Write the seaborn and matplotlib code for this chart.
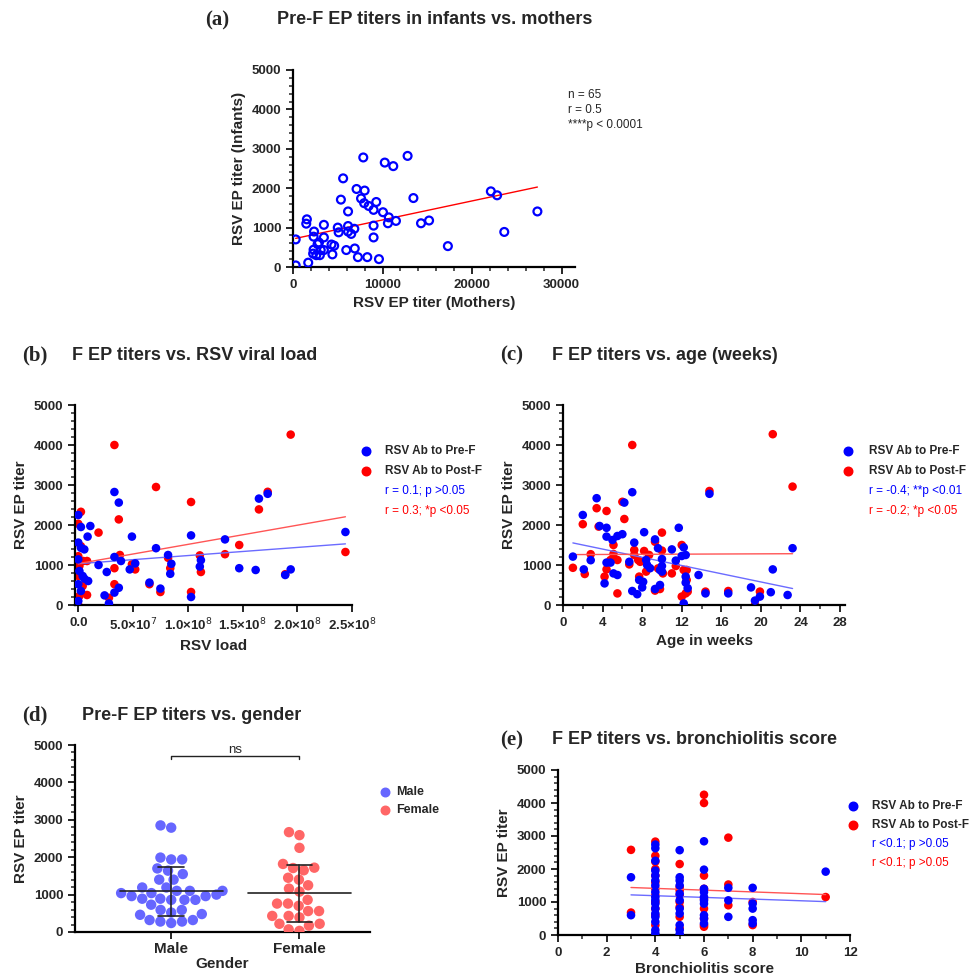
import numpy as np
import pandas as pd
import matplotlib.pyplot as plt
import seaborn as sns
from matplotlib.ticker import FuncFormatter, AutoMinorLocator

sns.set_theme(style="ticks")
plt.rcParams['font.family'] = ['Liberation Sans', 'DejaVu Sans']

BLUE = '#0000ff'
RED = '#ff0000'

# (a) mothers vs infants
a_mothers = [300, 300, 1550, 1480, 1700, 2350, 2300, 2300, 2250, 2600, 2750, 2900, 3000, 3100, 3450, 3450,
             3450, 4300, 4600, 4400, 5000, 5100, 5350, 5600, 5950, 6150, 6150, 6150, 6500, 6850, 6900, 7100,
             7250, 7600, 7850, 7950, 8000, 8450, 8300, 9000, 9000, 9000, 9300, 9600, 10050, 10250, 10600,
             10700, 11200, 11500, 12800, 13450, 14300, 15200, 17300, 22100, 22800, 23600, 27300]
a_infants = [700, 40, 1210, 1100, 110, 900, 770, 440, 340, 300, 580, 620, 300, 430, 750, 1070,
             430, 570, 540, 320, 1000, 880, 1710, 2250, 430, 1410, 1040, 900, 840, 970, 470, 1980,
             250, 1740, 2780, 1620, 1940, 1550, 250, 1450, 1050, 750, 1650, 200, 1390, 2650, 1110,
             1260, 2560, 1170, 2820, 1750, 1110, 1180, 530, 1920, 1820, 890, 1410]

# (b) viral load
b_pre_load = [3.3e7, 3.7e7, 0, 2.4e6, 1.1e7, 8.5e6, 4.9e7, 1.03e8, 1.65e8, 1.73e8, 2.44e8, 1.34e8, 7.1e7,
              8.2e7, 3.3e7, 3.9e7, 1.85e7, 2.6e7, 4.7e7, 5.2e7, 6.5e7, 7.5e7, 8.5e7, 8.4e7, 1.11e8, 1.12e8,
              1.03e8, 1.47e8, 1.62e8, 1.89e8, 1.94e8, 2.4e7, 2.8e7, 3.3e7, 3.7e7, 0, 2.4e6, 5.5e6, 0, 1e6,
              4e6, 5.5e6, 9e6, 0, 2.4e6, 0]
b_pre_titer = [2825, 2560, 2250, 1950, 1975, 1710, 1710, 1740, 2660, 2780, 1825, 1640, 1420,
               1250, 1200, 1100, 1000, 825, 890, 1040, 560, 410, 1030, 780, 960, 1120,
               200, 920, 875, 750, 890, 240, 40, 310, 430, 1560, 1430, 1390, 1140, 850,
               725, 660, 600, 520, 350, 100]
b_post_load = [3.3e7, 7.1e7, 1.03e8, 1.65e8, 1.73e8, 1.94e8, 2.44e8, 3.7e7, 1.85e7, 3.8e7, 3.3e7, 4.9e7,
               5.2e7, 6.5e7, 7.5e7, 8.2e7, 8.4e7, 1.03e8, 1.11e8, 1.12e8, 1.34e8, 1.47e8, 1.89e8, 3.3e7,
               2.8e7, 8e6, 8e6, 2.4e6, 0, 2.4e6, 0, 1e6, 0, 4e6, 1e6, 0, 4.5e6]
b_post_titer = [4000, 2950, 2575, 2390, 2830, 4260, 1325, 2140, 1810, 1250, 920, 1020,
                890, 520, 325, 1180, 920, 325, 1240, 825, 1270, 1500, 770, 520,
                180, 250, 1100, 2330, 2030, 1470, 1220, 975, 725, 475, 225, 0, 1100]

# (c) age in weeks
c_pre_age = [1, 2, 2.1, 2.8, 3.4, 3.7, 4.2, 4.4, 4.4, 4.4, 4.8, 5, 5.1, 5.5, 5.5, 6, 6.2, 6.7, 7, 7.2, 7,
             7.5, 7.7, 8, 8.1, 8.2, 8.4, 8.5, 8.8, 9.3, 9.3, 9.6, 9.8, 9.8, 10, 10, 10, 11, 11.4, 11.7, 12,
             12.2, 12.2, 12.4, 12.4, 12.4, 12.6, 13.7, 14.4, 14.8, 16.7, 19, 19.4, 19.9, 21, 21.2, 22.7, 23.2]
c_pre_titer = [1210, 2250, 890, 1120, 2670, 1975, 540, 1930, 1710, 1060, 1060, 1625, 790, 1725, 750, 1770,
               2560, 1080, 2820, 1560, 350, 270, 625, 440, 580, 1820, 1125, 1000, 920, 1640, 400, 1420,
               500, 875, 1150, 835, 975, 1390, 1110, 1930, 1225, 1440, 40, 1250, 710, 560, 420, 750,
               290, 2780, 290, 440, 110, 210, 320, 890, 250, 1420]
c_post_age = [1, 2, 2.2, 2.8, 3.4, 3.6, 4.4, 4.2, 4.4, 4.8, 5.1, 5.1, 5.5, 5.5, 6, 6.2, 6.7, 7, 7.2, 7.2,
              7.6, 7.7, 7.8, 8.2, 8.4, 8.7, 9.3, 9.3, 9.8, 9.6, 10, 10, 10.1, 11, 11.4, 12, 12.2, 12,
              12.4, 12.5, 12.5, 12.6, 14.4, 14.8, 16.7, 19.4, 19.9, 21.2, 23.2]
c_post_titer = [930, 2020, 775, 1270, 2420, 1960, 2350, 710, 890, 1125, 1500, 1275, 1125, 290, 2580, 2150,
                1015, 4000, 1375, 1250, 1125, 710, 1080, 1350, 835, 1250, 1580, 360, 400, 915, 1810,
                1360, 790, 790, 975, 1500, 875, 210, 290, 875, 625, 335, 335, 2850, 350, 0, 335,
                4270, 2960]

# (d) gender
d_male = [2850, 2790, 1990, 1940, 1940, 1700, 1640, 1550, 1400, 1400, 1190, 1190, 1100, 1100, 1100,
          1040, 1040, 1000, 960, 960, 890, 890, 860, 860, 860, 730, 590, 590, 520, 480, 460, 280, 280,
          320, 320, 240]
d_female = [2670, 2590, 2250, 1820, 1720, 1710, 1650, 1450, 1400, 1250, 1160, 1080, 860, 760, 760,
            700, 560, 560, 430, 430, 390, 220, 220, 170, 70, 30]

# (e) bronchiolitis score
e_pre_score = [3] * 2 + [4] * 17 + [5] * 11 + [6] * 10 + [7] * 3 + [8] * 5 + [11]
e_pre_titer = [1750, 600,
               2740, 2630, 2250, 1950, 1800, 1650, 1500, 1300, 1150, 1050, 950, 800, 650, 550, 400, 150, 50,
               2570, 1750, 1650, 1500, 1250, 1050, 800, 650, 300, 150, 30,
               2840, 1980, 1400, 1300, 1150, 1050, 950, 600, 500, 350,
               1430, 1050, 550,
               1430, 950, 800, 450, 350,
               1920]
e_post_score = [3] * 2 + [4] * 13 + [5] * 8 + [6] * 9 + [7] * 3 + [8] * 2 + [11]
e_post_titer = [2580, 680,
                2830, 2400, 2220, 2000, 1800, 1600, 1400, 1200, 1000, 800, 600, 300, 0,
                2150, 1450, 1350, 1200, 1000, 850, 550, 200,
                4250, 4000, 1800, 1400, 1100, 800, 500, 300, 250,
                2950, 1530, 900,
                1000, 300,
                1150]

W, H = 971, 977
fig = plt.figure(figsize=(W / 100, H / 100), dpi=100)


def add_ax(l, r, t, b):
    return fig.add_axes([l / W, 1 - b / H, (r - l) / W, (b - t) / H])


def style(ax):
    sns.despine(ax=ax)
    for s in ['left', 'bottom']:
        ax.spines[s].set_linewidth(1.6)
        ax.spines[s].set_color('black')
    ax.tick_params(width=1.4, length=5, labelsize=9.5, direction='out')
    ax.tick_params(which='minor', width=1.1, length=3)
    for lab in ax.get_xticklabels() + ax.get_yticklabels():
        lab.set_fontweight('bold')
    ax.set_ylim(0, 5000)
    ax.set_yticks(range(0, 5001, 1000))
    ax.yaxis.set_minor_locator(AutoMinorLocator(5))
    ax.set_facecolor('white')


def panel_title(x, y, letter, title, tx):
    fig.text(x / W, 1 - y / H, letter, family='Liberation Serif', fontweight='bold', fontsize=15, va='center')
    fig.text(tx / W, 1 - y / H, title, fontweight='bold', fontsize=13, va='center')


def scatter_pair(ax, x1, y1, x2, y2):
    sns.scatterplot(x=x1, y=y1, ax=ax, color=BLUE, s=38, edgecolor='none', zorder=3)
    sns.scatterplot(x=x2, y=y2, ax=ax, color=RED, s=38, edgecolor='none', zorder=2)
    sns.regplot(x=np.array(x1), y=np.array(y1), ax=ax, scatter=False, ci=None, color='#6b6bff',
                line_kws={'lw': 1})
    sns.regplot(x=np.array(x2), y=np.array(y2), ax=ax, scatter=False, ci=None, color='#ff5555',
                line_kws={'lw': 1})


def legend_text(ax, lines, x0, y0, dx, dy):
    tr = ax.transAxes
    kw = dict(transform=tr, fontsize=8.5, va='center')
    ax.scatter([x0], [y0], transform=tr, color=BLUE, s=38, clip_on=False)
    ax.text(x0 + dx, y0, 'RSV Ab to Pre-F', fontweight='bold', **kw)
    ax.scatter([x0], [y0 - dy], transform=tr, color=RED, s=38, clip_on=False)
    ax.text(x0 + dx, y0 - dy, 'RSV Ab to Post-F', fontweight='bold', **kw)
    ax.text(x0 + dx, y0 - 2 * dy, lines[0], color=BLUE, **kw)
    ax.text(x0 + dx, y0 - 3 * dy, lines[1], color=RED, **kw)


# (a)
ax = add_ax(293, 575, 70, 267)
sns.scatterplot(x=a_mothers, y=a_infants, ax=ax, facecolor='none', edgecolor=BLUE, linewidth=1.6, s=32, zorder=3)
sns.regplot(x=np.array(a_mothers), y=np.array(a_infants), ax=ax, scatter=False, ci=None, color=RED,
            line_kws={'lw': 1})
style(ax)
ax.set_xlim(0, 31500)
ax.set_xticks([0, 10000, 20000, 30000])
ax.xaxis.set_minor_locator(AutoMinorLocator(5))
for lab in ax.get_xticklabels():
    lab.set_fontweight('bold')
ax.set_xlabel('RSV EP titer (Mothers)', fontsize=11, fontweight='bold')
ax.set_ylabel('RSV EP titer (Infants)', fontsize=11, fontweight='bold')
fig.text(568 / W, 1 - 110 / H, 'n = 65\nr = 0.5\n****p < 0.0001', fontsize=8.5, va='center', linespacing=1.3)
panel_title(205, 20, '(a)', 'Pre-F EP titers in infants vs. mothers', 277)

# (b)
ax = add_ax(75, 352, 405, 605)
scatter_pair(ax, b_pre_load, b_pre_titer, b_post_load, b_post_titer)
style(ax)
ax.set_xlim(-3e6, 2.5e8)
ax.set_xticks([0, 5e7, 1e8, 1.5e8, 2e8, 2.5e8])


def sci(v, pos):
    if v == 0:
        return '0.0'
    e = int(np.floor(np.log10(v)))
    return f'{v / 10 ** e:.1f}×10$^{{{e}}}$'


ax.xaxis.set_major_formatter(FuncFormatter(sci))
for lab in ax.get_xticklabels():
    lab.set_fontweight('bold')
ax.set_xlabel('RSV load', fontsize=11, fontweight='bold')
ax.set_ylabel('RSV EP titer', fontsize=11, fontweight='bold')
legend_text(ax, ['r = 0.1; p >0.05', 'r = 0.3; *p <0.05'], 1.05, 0.77, 0.07, 0.1)
panel_title(22, 355, '(b)', 'F EP titers vs. RSV viral load', 72)

# (c)
ax = add_ax(563, 845, 405, 605)
scatter_pair(ax, c_pre_age, c_pre_titer, c_post_age, c_post_titer)
style(ax)
ax.set_xlim(0, 28.5)
ax.set_xticks(range(0, 29, 4))
ax.xaxis.set_minor_locator(AutoMinorLocator(2))
for lab in ax.get_xticklabels():
    lab.set_fontweight('bold')
ax.set_xlabel('Age in weeks', fontsize=11, fontweight='bold')
ax.set_ylabel('RSV EP titer', fontsize=11, fontweight='bold')
legend_text(ax, ['r = -0.4; **p <0.01', 'r = -0.2; *p <0.05'], 1.01, 0.77, 0.075, 0.1)
panel_title(500, 355, '(c)', 'F EP titers vs. age (weeks)', 552)

# (d)
ax = add_ax(75, 370, 745, 932)
d_df = pd.DataFrame({'Gender': ['Male'] * len(d_male) + ['Female'] * len(d_female),
                     'titer': d_male + d_female})
sns.swarmplot(data=d_df, x='Gender', y='titer', hue='Gender', palette=['#6666ff', '#ff6666'],
              size=7.5, ax=ax, legend=False, zorder=3)
for i, vals in enumerate([d_male, d_female]):
    m, sd = np.mean(vals), np.std(vals, ddof=1)
    ax.plot([i - 0.4, i + 0.4], [m, m], color='#222222', lw=1.2, zorder=4)
    ax.plot([i, i], [max(m - sd, 0), m + sd], color='#222222', lw=1.2, zorder=4)
    for v in [max(m - sd, 0), m + sd]:
        ax.plot([i - 0.1, i + 0.1], [v, v], color='#222222', lw=1.2, zorder=4)
ax.plot([0, 0, 1, 1], [4620, 4700, 4700, 4620], color='#222222', lw=1)
ax.text(0.5, 4780, 'ns', ha='center', fontsize=9.5)
style(ax)
ax.set_xlim(-0.75, 1.55)
for lab in ax.get_xticklabels():
    lab.set_fontweight('bold')
ax.tick_params(axis='x', labelsize=11, pad=2)
ax.set_xlabel('Gender', fontsize=11, fontweight='bold', labelpad=1)
ax.set_ylabel('RSV EP titer', fontsize=11, fontweight='bold')
tr = ax.transAxes
ax.scatter([1.05], [0.75], transform=tr, color='#6666ff', s=38, clip_on=False)
ax.text(1.09, 0.75, 'Male', transform=tr, fontsize=9, fontweight='bold', va='center')
ax.scatter([1.05], [0.65], transform=tr, color='#ff6666', s=38, clip_on=False)
ax.text(1.09, 0.65, 'Female', transform=tr, fontsize=9, fontweight='bold', va='center')
panel_title(22, 715, '(d)', 'Pre-F EP titers vs. gender', 82)

# (e)
ax = add_ax(558, 850, 770, 935)
scatter_pair(ax, e_pre_score, e_pre_titer, e_post_score, e_post_titer)
style(ax)
ax.set_xlim(0, 12)
ax.set_xticks(range(0, 13, 2))
ax.xaxis.set_minor_locator(AutoMinorLocator(2))
for lab in ax.get_xticklabels():
    lab.set_fontweight('bold')
ax.set_xlabel('Bronchiolitis score', fontsize=11, fontweight='bold', labelpad=2)
ax.set_ylabel('RSV EP titer', fontsize=11, fontweight='bold')
legend_text(ax, ['r <0.1; p >0.05', 'r <0.1; p >0.05'], 1.01, 0.78, 0.065, 0.115)
panel_title(500, 740, '(e)', 'F EP titers vs. bronchiolitis score', 552)

fig.savefig('out.png', dpi=100, facecolor='white')
